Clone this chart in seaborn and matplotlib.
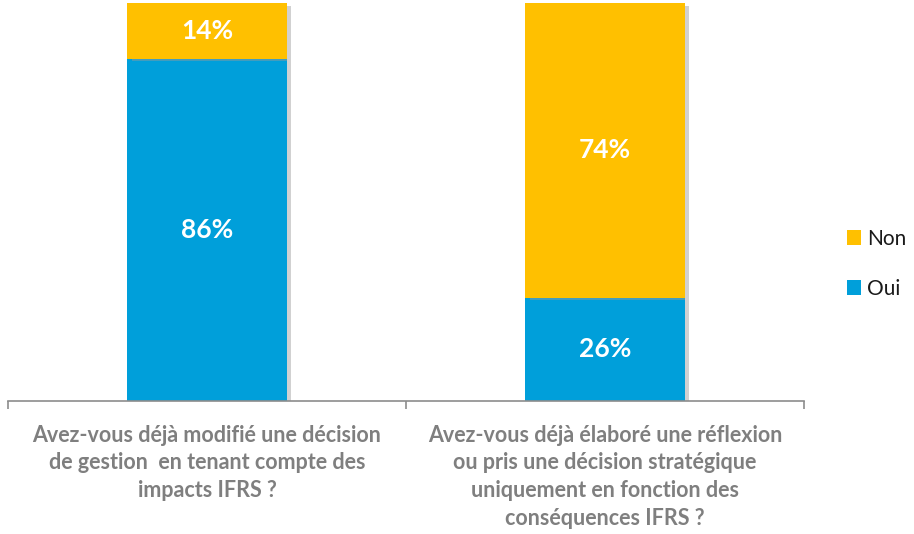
import pandas as pd
import matplotlib.pyplot as plt
import matplotlib.patheffects as pe
import seaborn as sns

questions = [
    "Avez-vous déjà modifié une décision\nde gestion  en tenant compte des\nimpacts IFRS ?",
    "Avez-vous déjà élaboré une réflexion\nou pris une décision stratégique\nuniquement en fonction des\nconséquences IFRS ?",
]
oui = [86, 26]
non = [14, 74]

sns.set_style("white")
plt.rcParams['font.family'] = ['Lato', 'DejaVu Sans']

df = pd.DataFrame({"question": questions, "Oui": oui, "Non": non})

fig = plt.figure(figsize=(9.14, 5.34), dpi=100)
ax = fig.add_axes([0.0088, 0.249, 0.8708, 0.7456])

blue = "#009FDA"
yellow = "#FFC000"
shadow = [pe.SimplePatchShadow(offset=(3, -2), shadow_rgbFace="#999999", alpha=0.45), pe.Normal()]

sns.barplot(data=df, x="question", y="Oui", color=blue, width=0.4, ax=ax,
            saturation=1, label="Oui")
sns.barplot(data=df, x="question", y="Non", bottom=df["Oui"], color=yellow,
            width=0.4, ax=ax, saturation=1, label="Non")
for p in ax.patches:
    p.set_linewidth(0)

# légende avant les ombres
handles, labels = ax.get_legend_handles_labels()
leg = ax.legend(handles[::-1], labels[::-1], loc="center left",
                bbox_to_anchor=(1.03, 0.345), frameon=False, fontsize=15,
                handlelength=0.7, handleheight=0.7, handletextpad=0.3,
                labelspacing=1.45)
for t in leg.get_texts():
    t.set_color("#1a1a1a")

for p in ax.patches:
    p.set_path_effects(shadow)

# étiquettes de valeurs
for i, (o, n) in enumerate(zip(oui, non)):
    ax.text(i, o / 2, f"{o}%", ha="center", va="center", color="white",
            fontsize=19, fontweight="bold")
    ax.text(i, o + n / 2, f"{n}%", ha="center", va="center", color="white",
            fontsize=19, fontweight="bold")

ax.set_xlim(-0.5, 1.5)
ax.set_ylim(0, 100)
ax.set_yticks([])
ax.set_xlabel("")
ax.set_ylabel("")
for s in ["top", "right", "left"]:
    ax.spines[s].set_visible(False)
ax.spines["bottom"].set_color("#8c8c8c")
ax.spines["bottom"].set_linewidth(1.2)

ax.set_xticks([0, 1])
ax.set_xticklabels(questions, color="#7f7f7f", fontsize=15.5, fontweight="bold",
                   linespacing=1.4)
ax.tick_params(axis="x", which="major", bottom=False, length=0, pad=17)
ax.set_xticks([-0.5, 0.5, 1.5], minor=True)
ax.tick_params(axis="x", which="minor", bottom=True, length=6, color="#8c8c8c", width=1.2)

fig.savefig("out.png", dpi=100)
